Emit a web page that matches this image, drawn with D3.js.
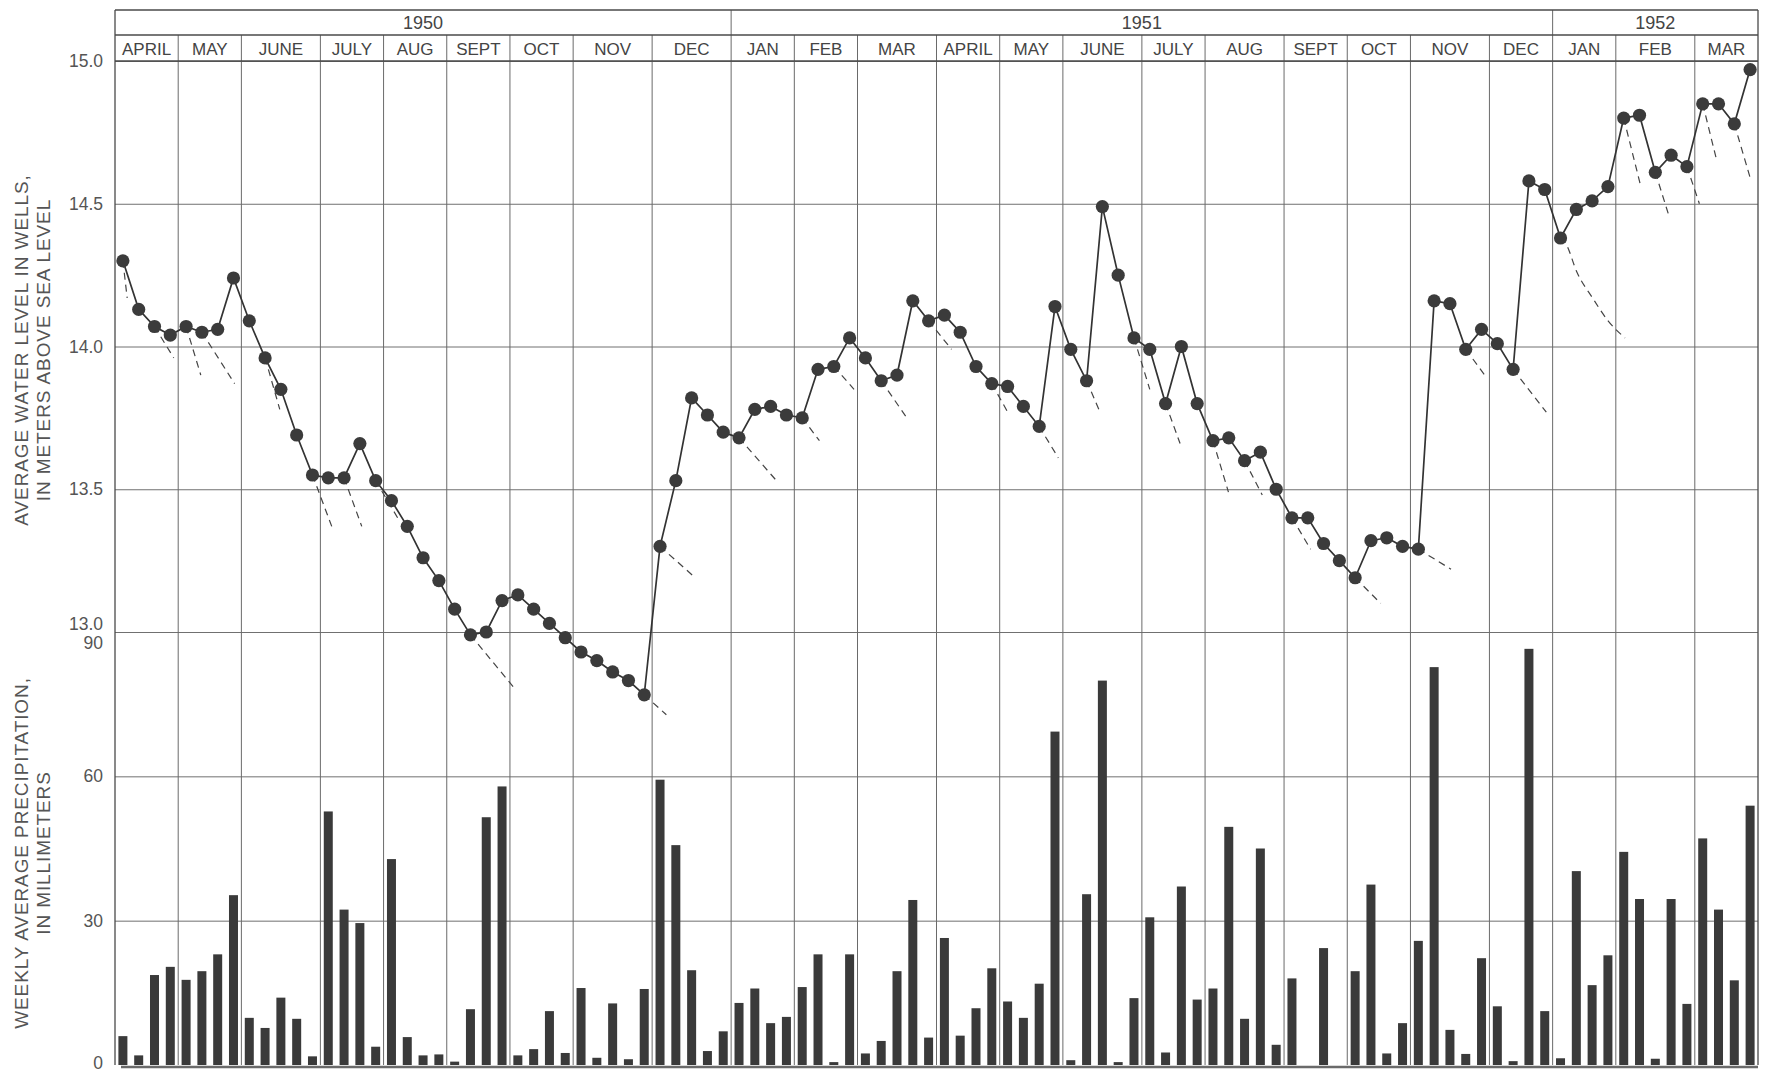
<!DOCTYPE html>
<html>
<head>
<meta charset="utf-8">
<script src="https://cdn.jsdelivr.net/npm/d3@7"></script>
<style>
  body { margin: 0; background: #fff; }
  svg { font-family: "Liberation Sans", Arial, sans-serif; }
</style>
</head>
<body>
<svg id="chart"></svg>
<script>
'use strict';

// months along the top, with the number of weekly readings in each
var monthNames = ['APRIL', 'MAY', 'JUNE', 'JULY', 'AUG', 'SEPT', 'OCT', 'NOV', 'DEC',
  'JAN', 'FEB', 'MAR', 'APRIL', 'MAY', 'JUNE', 'JULY', 'AUG', 'SEPT', 'OCT', 'NOV', 'DEC',
  'JAN', 'FEB', 'MAR'];
var monthWeeks = [4, 4, 5, 4, 4, 4, 4, 5, 5,
  4, 4, 5, 4, 4, 5, 4, 5, 4, 4, 5, 4,
  4, 5, 4];
var years = ['1950', '1951', '1952'];
var yearMonths = [9, 12, 3];

// weekly average water level in wells (m above sea level)
var waterLevel = [
  14.30, 14.13, 14.07, 14.04,
  14.07, 14.05, 14.06, 14.24,
  14.09, 13.96, 13.85, 13.69, 13.55,
  13.54, 13.54, 13.66, 13.53,
  13.46, 13.37, 13.26, 13.18,
  13.08, 12.99, 13.00, 13.11,
  13.13, 13.08, 13.03, 12.98,
  12.93, 12.90, 12.86, 12.83, 12.78,
  13.30, 13.53, 13.82, 13.76, 13.70,
  13.68, 13.78, 13.79, 13.76,
  13.75, 13.92, 13.93, 14.03,
  13.96, 13.88, 13.90, 14.16, 14.09,
  14.11, 14.05, 13.93, 13.87,
  13.86, 13.79, 13.72, 14.14,
  13.99, 13.88, 14.49, 14.25, 14.03,
  13.99, 13.80, 14.00, 13.80,
  13.67, 13.68, 13.60, 13.63, 13.50,
  13.40, 13.40, 13.31, 13.25,
  13.19, 13.32, 13.33, 13.30,
  13.29, 14.16, 14.15, 13.99, 14.06,
  14.01, 13.92, 14.58, 14.55,
  14.38, 14.48, 14.51, 14.56,
  14.80, 14.81, 14.61, 14.67, 14.63,
  14.85, 14.85, 14.78, 14.97
];

// weekly average precipitation (mm)
var precipitation = [
  6.0, 2.0, 18.7, 20.4,
  17.7, 19.5, 23.0, 35.3,
  9.8, 7.7, 14.0, 9.6, 1.8,
  52.7, 32.3, 29.5, 3.8,
  42.8, 5.8, 2.0, 2.2,
  0.7, 11.6, 51.5, 57.9,
  2.0, 3.3, 11.2, 2.5,
  16.0, 1.5, 12.8, 1.2, 15.8,
  59.3, 45.7, 19.7, 2.9, 7.0,
  12.9, 15.9, 8.7, 10.0,
  16.2, 23.0, 0.6, 23.0,
  2.4, 5.0, 19.5, 34.3, 5.7,
  26.4, 6.1, 11.8, 20.1,
  13.2, 9.8, 16.9, 69.3,
  1.0, 35.5, 79.9, 0.6, 13.9,
  30.7, 2.6, 37.1, 13.6,
  15.9, 49.5, 9.6, 45.0, 4.2,
  18.0, 0, 24.3, 0,
  19.5, 37.5, 2.4, 8.7,
  25.8, 82.7, 7.3, 2.3, 22.2,
  12.2, 0.8, 86.5, 11.2,
  1.4, 40.3, 16.6, 22.8,
  44.3, 34.5, 1.3, 34.5, 12.7,
  47.1, 32.3, 17.6, 53.9
];

// dashed recession lines: start reading, length in weeks, level reached
var recessionFrom = [0, 2, 4, 5, 9, 12, 14, 16, 22, 33, 34, 39, 43, 45, 48, 51, 55, 58,
  61, 64, 66, 69, 71, 74, 78, 82, 85, 88, 95, 97, 99, 100, 102];
var recessionWeeks = [0.27, 1.22, 0.93, 2.07, 0.93, 1.22, 1.12, 1.39, 2.83, 1.4, 2.23, 2.37,
  1.09, 1.28, 1.62, 1.45, 1.11, 1.21, 0.85, 1.0, 0.92, 0.98, 1.12, 1.18, 1.62, 2.07,
  1.2, 2.1, 1.04, 0.85, 0.79, 0.85, 1.01];
var recessionTo = [14.17, 13.96, 13.90, 13.87, 13.78, 13.37, 13.37, 13.40, 12.80, 12.71,
  13.19, 13.53, 13.67, 13.85, 13.75, 13.99, 13.76, 13.61, 13.77, 13.85, 13.66, 13.49,
  13.48, 13.29, 13.10, 13.22, 13.90, 13.77, 14.57, 14.46, 14.50, 14.66, 14.59];
// the long curved recession after the December 1951 peak
var curveStart = 91;
var curveWeeks = [0, 0.34, 1.04, 2.03, 3.01, 4.08];
var curveLevels = [14.38, 14.36, 14.26, 14.17, 14.09, 14.03];

var waterTicks = [13.0, 13.5, 14.0, 14.5, 15.0];
var precipTicks = [0, 30, 60, 90];

(function () {
  var width = 1779, height = 1075;
  var plotLeft = 115, plotRight = 1758, frameTop = 10, yearBottom = 35;
  var nWeeks = d3.sum(monthWeeks);

  var svg = d3.select('#chart').attr('width', width).attr('height', height);

  var x = d3.scaleLinear().domain([0, nWeeks]).range([plotLeft, plotRight]);
  var yWater = d3.scaleLinear().domain([13, 15]).range([632, 61]);
  var yPrecip = d3.scaleLinear().domain([0, 90]).range([1065, 632]);
  var bottom = yPrecip(0);

  var monthStart = d3.cumsum([0].concat(monthWeeks));
  var yearStart = d3.cumsum([0].concat(yearMonths));
  var yearWeeks = yearStart.map(function (m) { return monthStart[m]; });

  // horizontal grid, through the axes
  var waterAxis = d3.axisLeft(yWater).tickValues(waterTicks).tickSize(-(plotRight - plotLeft))
    .tickPadding(12).tickFormat(d3.format('.1f'));
  var precipAxis = d3.axisLeft(yPrecip).tickValues(precipTicks).tickSize(-(plotRight - plotLeft))
    .tickPadding(12).tickFormat(d3.format('d'));

  function styleAxis(g) {
    g.select('.domain').remove();
    g.selectAll('.tick line').attr('stroke', '#707070').attr('stroke-width', 1);
    g.selectAll('.tick text').attr('fill', '#555').style('font-size', '17.5px')
      .attr('font-family', '"Liberation Sans", Arial, sans-serif');
  }

  svg.append('g').attr('transform', 'translate(' + plotLeft + ',0)').call(waterAxis).call(styleAxis)
    .selectAll('.tick text').attr('dy', function (d) { return d === 13 ? '-0.15em' : '0.32em'; });
  svg.append('g').attr('transform', 'translate(' + plotLeft + ',0)').call(precipAxis).call(styleAxis)
    .call(function (g) {
      g.selectAll('.tick line').filter(function (d) { return d === 0; }).remove();
      g.selectAll('.tick text').attr('dy', function (d) {
        return d === 90 ? '0.95em' : (d === 0 ? '0.2em' : '0.32em');
      });
    });

  // month dividers and year dividers
  svg.append('g').selectAll('line').data(monthStart.slice(1, -1)).enter()
    .append('line')
    .attr('x1', function (d) { return x(d); }).attr('x2', function (d) { return x(d); })
    .attr('y1', function (d) { return yearWeeks.indexOf(d) >= 0 ? frameTop : yearBottom; })
    .attr('y2', bottom)
    .attr('stroke', '#6a6a6a').attr('stroke-width', 1);

  // frame and header rules
  var frame = svg.append('g').attr('stroke', '#4a4a4a').attr('stroke-width', 1.3).attr('fill', 'none');
  frame.append('line').attr('x1', plotLeft).attr('x2', plotRight).attr('y1', frameTop).attr('y2', frameTop);
  frame.append('line').attr('x1', plotLeft).attr('x2', plotRight).attr('y1', yearBottom).attr('y2', yearBottom);
  frame.append('line').attr('x1', plotLeft).attr('x2', plotRight).attr('y1', yWater(15)).attr('y2', yWater(15));
  frame.append('line').attr('x1', plotLeft).attr('x2', plotLeft).attr('y1', frameTop).attr('y2', bottom);
  frame.append('line').attr('x1', plotRight).attr('x2', plotRight).attr('y1', frameTop).attr('y2', bottom);

  // header labels
  svg.append('g').selectAll('text').data(years).enter()
    .append('text')
    .attr('x', function (d, i) { return x((yearWeeks[i] + yearWeeks[i + 1]) / 2); })
    .attr('y', (frameTop + yearBottom) / 2)
    .attr('dy', '0.35em').attr('text-anchor', 'middle')
    .attr('fill', '#444').style('font-size', '18px')
    .text(function (d) { return d; });

  svg.append('g').selectAll('text').data(monthNames).enter()
    .append('text')
    .attr('x', function (d, i) { return x((monthStart[i] + monthStart[i + 1]) / 2); })
    .attr('y', (yearBottom + yWater(15)) / 2 + 1)
    .attr('dy', '0.35em').attr('text-anchor', 'middle')
    .attr('fill', '#444').style('font-size', '17px')
    .text(function (d) { return d; });

  // axis titles
  function title(lines, cy) {
    svg.append('g').selectAll('text').data(lines).enter()
      .append('text')
      .attr('transform', function (d, i) { return 'translate(' + (21 + i * 22) + ',' + cy + ') rotate(-90)'; })
      .attr('dy', '0.35em').attr('text-anchor', 'middle')
      .attr('fill', '#555').style('font-size', '19px').style('letter-spacing', '0.9px')
      .text(function (d) { return d; });
  }
  title(['AVERAGE WATER LEVEL IN WELLS,', 'IN METERS ABOVE SEA LEVEL'], 350);
  title(['WEEKLY AVERAGE PRECIPITATION,', 'IN MILLIMETERS'], 853);

  // precipitation bars
  var barW = 9;
  svg.append('g').selectAll('rect').data(precipitation).enter()
    .append('rect')
    .attr('x', function (d, i) { return x(i + 0.5) - barW / 2; })
    .attr('y', function (d) { return yPrecip(d); })
    .attr('width', barW)
    .attr('height', function (d) { return bottom - yPrecip(d); })
    .attr('fill', '#3a3a3a');

  // base line
  svg.append('line')
    .attr('x1', plotLeft + 6).attr('x2', plotRight)
    .attr('y1', bottom + 2).attr('y2', bottom + 2)
    .attr('stroke', '#6a6a6a').attr('stroke-width', 2.5);

  // dashed recession lines
  var dashes = svg.append('g').attr('stroke', '#444').attr('stroke-width', 1.2)
    .attr('stroke-dasharray', '7,5').attr('fill', 'none');
  dashes.selectAll('line').data(recessionFrom).enter()
    .append('line')
    .attr('x1', function (d) { return x(d + 0.5); })
    .attr('y1', function (d) { return yWater(waterLevel[d]); })
    .attr('x2', function (d, i) { return x(d + 0.5 + recessionWeeks[i]); })
    .attr('y2', function (d, i) { return yWater(recessionTo[i]); });

  var curve = d3.line()
    .x(function (d, i) { return x(curveStart + 0.5 + curveWeeks[i]); })
    .y(function (d) { return yWater(d); })
    .curve(d3.curveMonotoneX);
  dashes.append('path').attr('d', curve(curveLevels));

  // water level line and points
  var line = d3.line()
    .x(function (d, i) { return x(i + 0.5); })
    .y(function (d) { return yWater(d); });
  svg.append('path')
    .attr('d', line(waterLevel))
    .attr('fill', 'none').attr('stroke', '#333').attr('stroke-width', 1.7);

  svg.append('g').selectAll('circle').data(waterLevel).enter()
    .append('circle')
    .attr('cx', function (d, i) { return x(i + 0.5); })
    .attr('cy', function (d) { return yWater(d); })
    .attr('r', 6.6)
    .attr('fill', '#3b3b3b');
})();
</script>
</body>
</html>
